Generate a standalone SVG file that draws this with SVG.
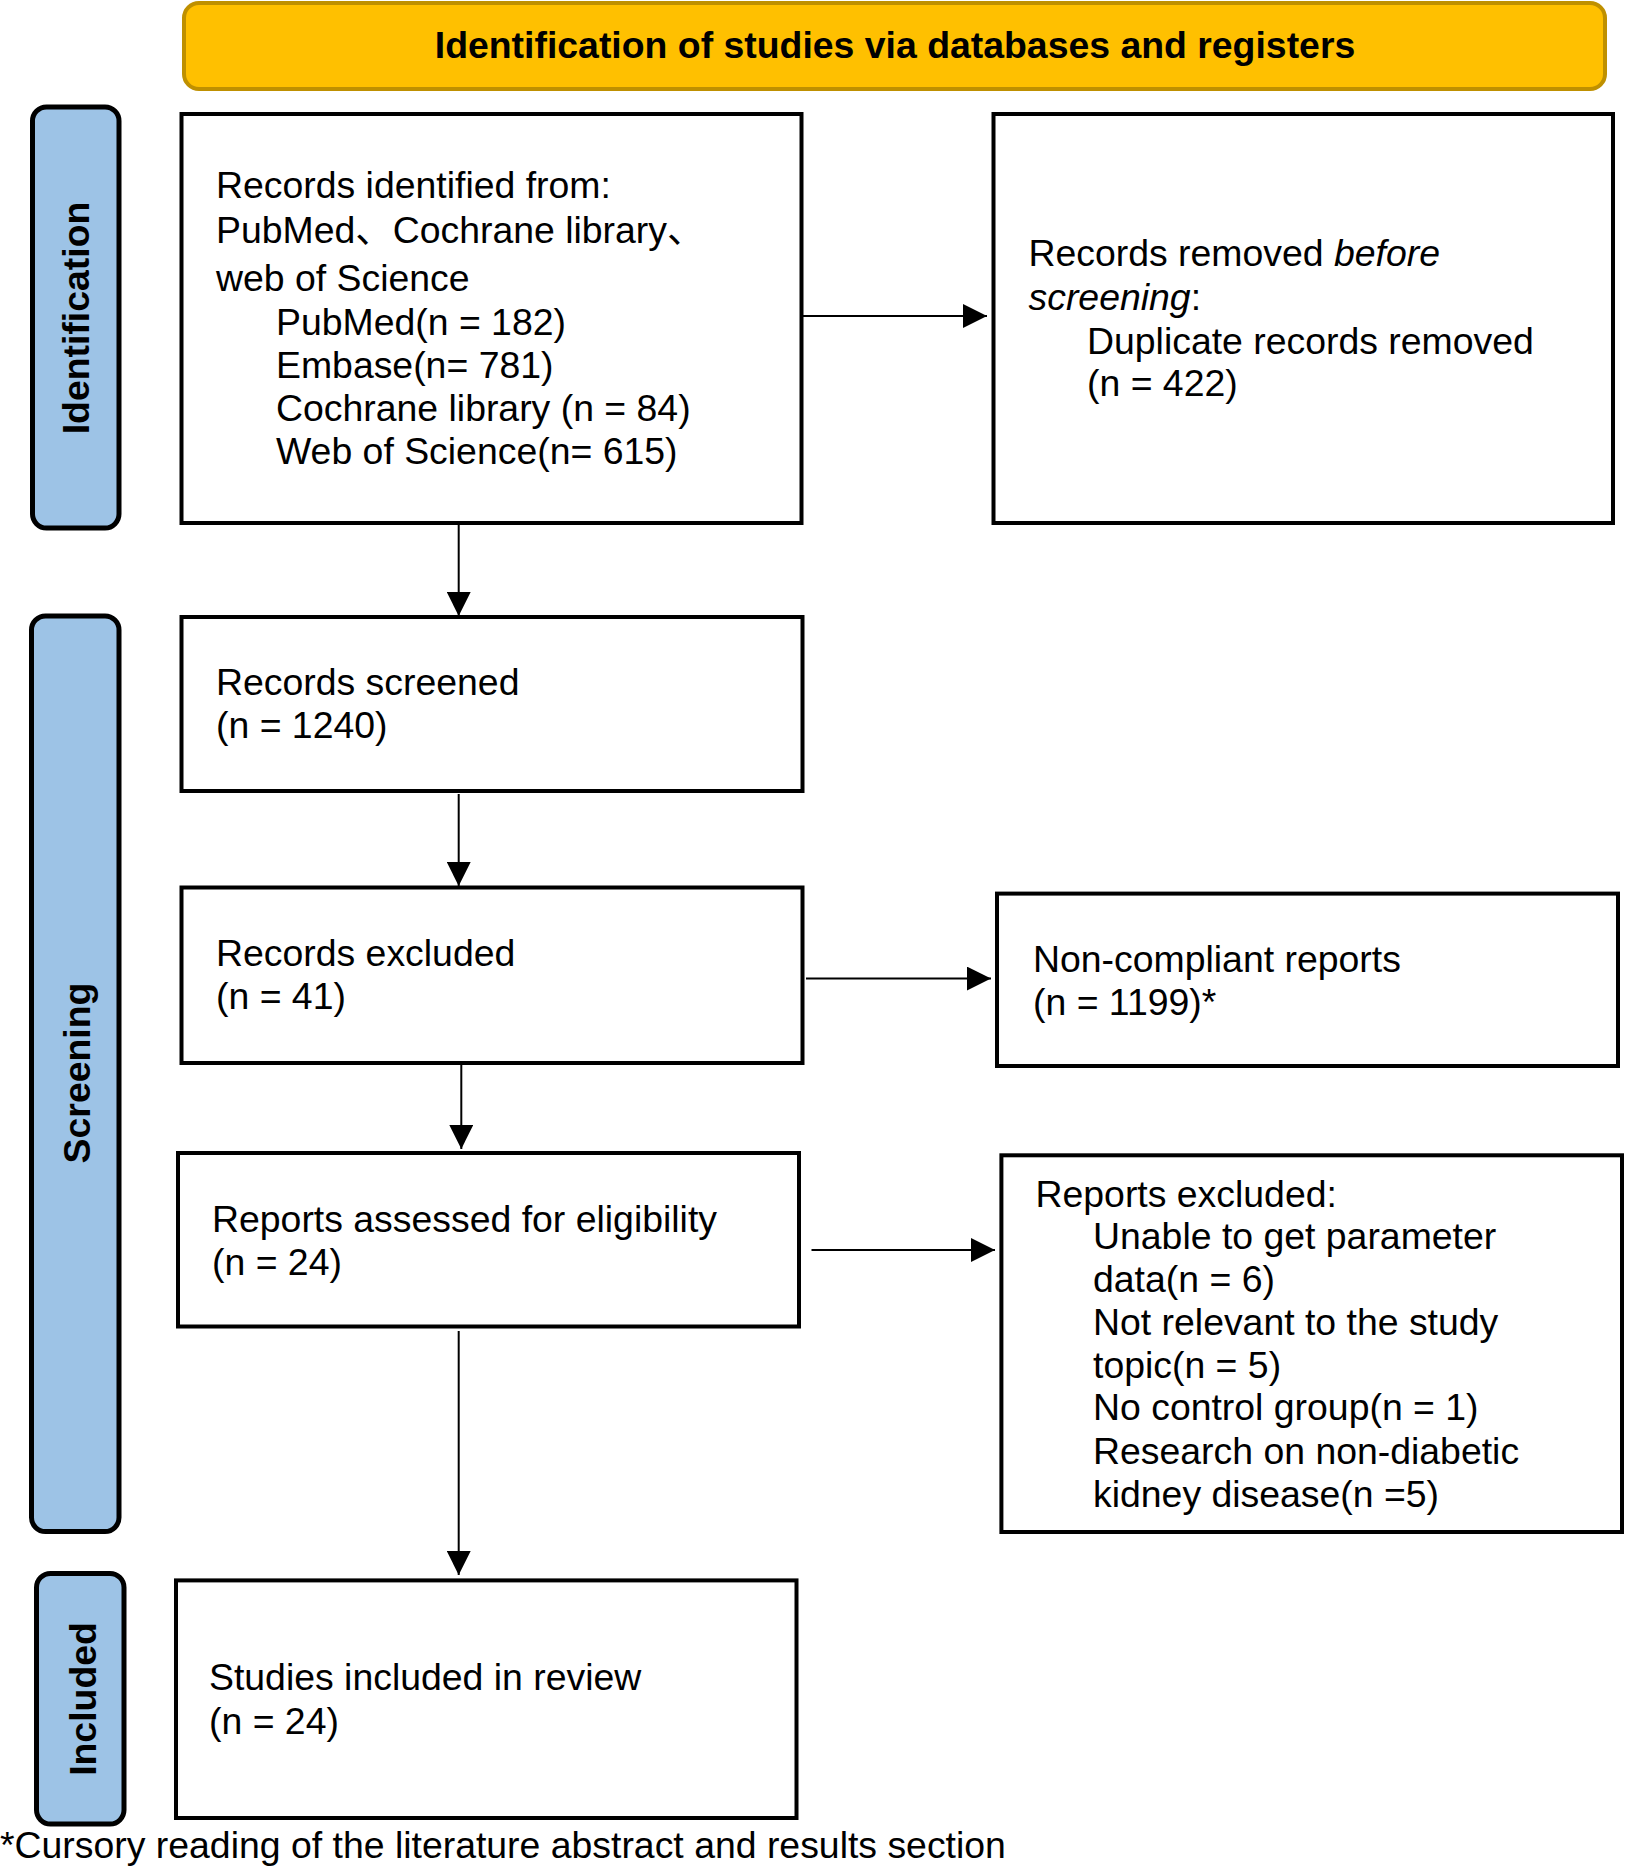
<svg xmlns="http://www.w3.org/2000/svg" width="1625" height="1867" viewBox="0 0 1625 1867">
<defs>
<style>
.t{font-family:"Liberation Sans","Noto Sans CJK SC",Arial,sans-serif;font-size:37.4px;fill:#000}
.b{font-weight:bold}
.box{fill:#fff;stroke:#000;stroke-width:4}
.lab{fill:#9DC3E6;stroke:#000;stroke-width:5}
.con{stroke:#000;stroke-width:2;fill:none;marker-end:url(#ah)}
</style>
<marker id="ah" markerUnits="userSpaceOnUse" markerWidth="24" markerHeight="24" refX="24" refY="12" orient="auto">
<path d="M0,0 L24,12 L0,24 Z" fill="#000"/>
</marker>
</defs>
<rect width="1625" height="1867" fill="#fff"/>

<g id="header">
<rect x="184" y="3" width="1421" height="86" rx="15" fill="#FFC000" stroke="#BF9000" stroke-width="4"/>
<text class="t b" x="895" y="58" text-anchor="middle">Identification of studies via databases and registers</text>
</g>

<g id="label-identification">
<rect class="lab" x="32.5" y="107" width="86.5" height="421" rx="14"/>
<text class="t b" transform="translate(89,318) rotate(-90)" text-anchor="middle">Identification</text>
</g>
<g id="label-screening">
<rect class="lab" x="31.5" y="616" width="87.5" height="915.5" rx="14"/>
<text class="t b" transform="translate(90,1073) rotate(-90)" text-anchor="middle">Screening</text>
</g>
<g id="label-included">
<rect class="lab" x="36.5" y="1573.5" width="87.5" height="250.5" rx="14"/>
<text class="t b" transform="translate(96,1699) rotate(-90)" text-anchor="middle">Included</text>
</g>

<g id="connectors">
<line class="con" x1="802" y1="316" x2="987" y2="316"/>
<line class="con" x1="458.7" y1="523" x2="458.7" y2="616"/>
<line class="con" x1="458.7" y1="794" x2="458.7" y2="886"/>
<line class="con" x1="806" y1="978.6" x2="991" y2="978.6"/>
<line class="con" x1="461.3" y1="1060" x2="461.3" y2="1149"/>
<line class="con" x1="811.5" y1="1250" x2="995" y2="1250"/>
<line class="con" x1="458.7" y1="1331" x2="458.7" y2="1575"/>
</g>

<g id="records-identified">
<rect class="box" x="181.5" y="114" width="620" height="409"/>
<text class="t" x="216" y="198">Records identified from:</text>
<text class="t" x="216" y="243">PubMed、Cochrane library、</text>
<text class="t" x="216" y="291">web of Science</text>
<text class="t" x="276" y="335">PubMed(n = 182)</text>
<text class="t" x="276" y="378">Embase(n= 781)</text>
<text class="t" x="276" y="421">Cochrane library (n = 84)</text>
<text class="t" x="276" y="464">Web of Science(n= 615)</text>
</g>

<g id="records-removed">
<rect class="box" x="993.5" y="114" width="619.5" height="409"/>
<text class="t" x="1028.5" y="266">Records removed <tspan font-style="italic">before</tspan></text>
<text class="t" x="1028.5" y="310"><tspan font-style="italic">screening</tspan>:</text>
<text class="t" x="1087" y="354">Duplicate records removed</text>
<text class="t" x="1087" y="396">(n = 422)</text>
</g>

<g id="records-screened">
<rect class="box" x="181.5" y="617" width="621" height="174"/>
<text class="t" x="216" y="695">Records screened</text>
<text class="t" x="216" y="738">(n = 1240)</text>
</g>

<g id="records-excluded">
<rect class="box" x="181.5" y="887.5" width="621" height="175.5"/>
<text class="t" x="216" y="966">Records excluded</text>
<text class="t" x="216" y="1009">(n = 41)</text>
</g>

<g id="non-compliant">
<rect class="box" x="997" y="893.6" width="621" height="172.4"/>
<text class="t" x="1033" y="972">Non-compliant reports</text>
<text class="t" x="1033" y="1015">(n = 1199)*</text>
</g>

<g id="reports-assessed">
<rect class="box" x="178" y="1153" width="621" height="173.5"/>
<text class="t" x="212" y="1232">Reports assessed for eligibility</text>
<text class="t" x="212" y="1275">(n = 24)</text>
</g>

<g id="reports-excluded">
<rect class="box" x="1001.4" y="1155.3" width="620.6" height="376.7"/>
<text class="t" x="1035.5" y="1207">Reports excluded:</text>
<text class="t" x="1093" y="1249">Unable to get parameter</text>
<text class="t" x="1093" y="1292">data(n = 6)</text>
<text class="t" x="1093" y="1335">Not relevant to the study</text>
<text class="t" x="1093" y="1378">topic(n = 5)</text>
<text class="t" x="1093" y="1420">No control group(n = 1)</text>
<text class="t" x="1093" y="1463.5">Research on non-diabetic</text>
<text class="t" x="1093" y="1507">kidney disease(n =5)</text>
</g>

<g id="studies-included">
<rect class="box" x="176" y="1580.4" width="620.5" height="237.6"/>
<text class="t" x="209" y="1689.5">Studies included in review</text>
<text class="t" x="209" y="1733.5">(n = 24)</text>
</g>

<text id="footnote" class="t" x="0" y="1858">*Cursory reading of the literature abstract and results section</text>
</svg>
